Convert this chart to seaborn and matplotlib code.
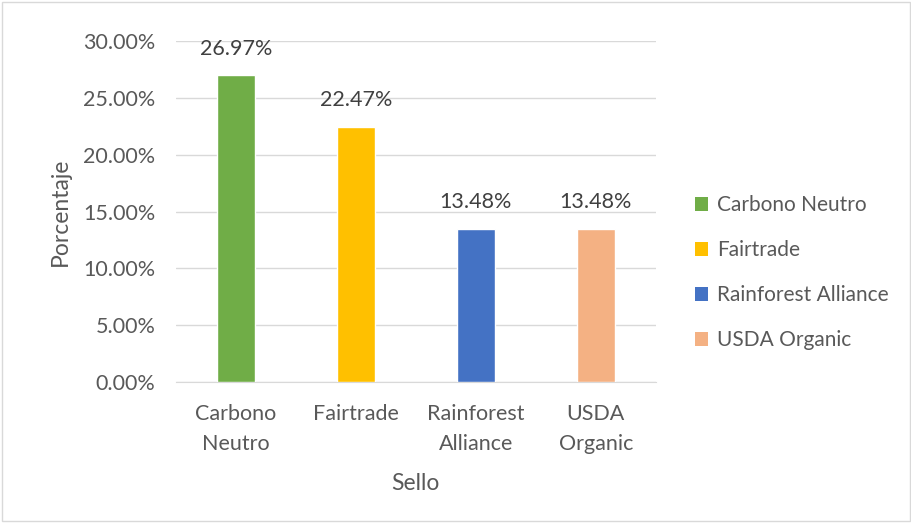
import numpy as np
import pandas as pd
import matplotlib.pyplot as plt
import seaborn as sns
from matplotlib.patches import Patch, Rectangle

# Data
sellos = ["Carbono Neutro", "Fairtrade", "Rainforest Alliance", "USDA Organic"]
tick_labels = ["Carbono\nNeutro", "Fairtrade", "Rainforest\nAlliance", "USDA\nOrganic"]
porcentaje = [0.2697, 0.2247, 0.1348, 0.1348]
colores = ["#70AD47", "#FFC000", "#4472C4", "#F4B183"]

data = pd.DataFrame({"Sello": sellos, "Porcentaje": porcentaje})

sns.set_style("white")
plt.rcParams['font.family'] = ['Lato', 'DejaVu Sans']
txt = "#595959"
fs = 15.5

fig = plt.figure(figsize=(9.12, 5.23), dpi=100)
ax = fig.add_axes([0.193, 0.2696, 0.526, 0.652])

sns.barplot(data=data, x="Sello", y="Porcentaje", hue="Sello", palette=colores,
            saturation=1, dodge=False, legend=False, width=0.32, ax=ax, zorder=3)

ax.set_ylim(0, 0.30)
ax.set_xlim(-0.5, 3.5)
yt = np.arange(0, 0.301, 0.05)
ax.set_yticks(yt)
ax.set_yticklabels([f"{v*100:.2f}%" for v in yt], color=txt, fontsize=fs)
ax.set_xticks(range(len(sellos)))
ax.set_xticklabels(tick_labels, color=txt, fontsize=fs, linespacing=1.6)
ax.tick_params(axis="y", length=0, pad=15)
ax.tick_params(axis="x", length=0, pad=16)
ax.grid(axis="y", color="#D9D9D9", linewidth=1, zorder=0)
for s in ["top", "right", "left"]:
    ax.spines[s].set_visible(False)
ax.spines["bottom"].set_color("#D9D9D9")

for i, v in enumerate(porcentaje):
    ax.text(i, v + 0.0145, f"{v*100:.2f}%", ha="center", va="bottom", color="#404040", fontsize=fs)

ax.set_xlabel("Sello", color=txt, fontsize=fs + 1, labelpad=14)
ax.set_ylabel("Porcentaje", color=txt, fontsize=fs + 1, labelpad=9)

handles = [Patch(facecolor=c, edgecolor="none") for c in colores]
fig.legend(handles, sellos, loc="center left", bbox_to_anchor=(0.741, 0.479),
           frameon=False, fontsize=15, labelcolor=txt, handlelength=0.65,
           handleheight=0.65, handletextpad=0.45, labelspacing=1.2)

fig.patches.append(Rectangle((0.002, 0.004), 0.996, 0.992, transform=fig.transFigure,
                             fill=False, edgecolor="#D9D9D9", linewidth=1))

fig.savefig("out.png", dpi=100)
